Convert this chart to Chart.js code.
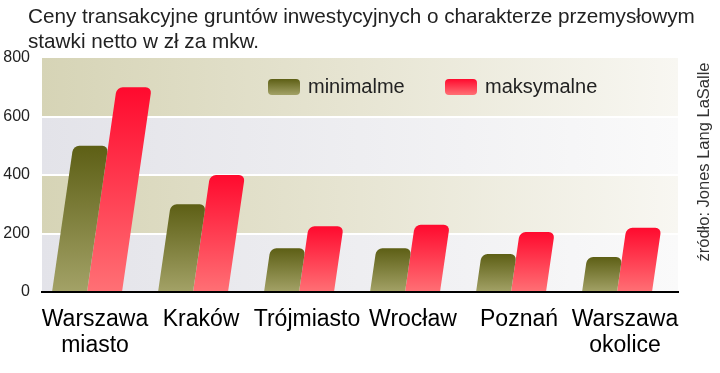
<!DOCTYPE html>
<html>
<head>
<meta charset="utf-8">
<script src="https://cdn.jsdelivr.net/npm/chart.js@4.4.1/dist/chart.umd.min.js"></script>
<style>
    html, body { margin: 0; padding: 0; background: #fff; }
    #wrap { width: 720px; height: 373px; position: relative; }
</style>
</head>
<body>
<div id="wrap"><canvas id="chart" width="720" height="373"></canvas></div>
<script>
// Data
const categories = [['Warszawa', 'miasto'], 'Kraków', 'Trójmiasto', 'Wrocław', 'Poznań', ['Warszawa', 'okolice']];
const minValues = [500, 300, 150, 150, 130, 120];
const maxValues = [700, 400, 225, 230, 205, 220];
const seriesNames = ['minimalme', 'maksymalne'];
const yTicks = [0, 200, 400, 600, 800];
const titleLines = ['Ceny transakcyjne gruntów inwestycyjnych o charakterze przemysłowym', 'stawki netto w zł za mkw.'];
const sourceText = 'źródło: Jones Lang LaSalle';

const FONT = "'Liberation Sans', Arial, sans-serif";
const SKEW = 0.145;

function barGradient(c, top, bottom) {
    const chart = c.chart;
    if (!chart.chartArea) return top;
    const y = chart.scales.y;
    const g = chart.ctx.createLinearGradient(0, y.getPixelForValue(c.raw), 0, y.getPixelForValue(0));
    g.addColorStop(0, top);
    g.addColorStop(1, bottom);
    return g;
}

// alternating khaki / grey bands behind the grid
const bands = {
    id: 'bands',
    beforeDraw(chart) {
        const { ctx, chartArea: a, scales } = chart;
        for (let i = 0; i < yTicks.length - 1; i++) {
            const yt = scales.y.getPixelForValue(yTicks[yTicks.length - 1 - i]);
            const yb = scales.y.getPixelForValue(yTicks[yTicks.length - 2 - i]);
            const g = ctx.createLinearGradient(a.left, 0, a.right, 0);
            if (i % 2 === 0) {
                g.addColorStop(0, '#d6d4b6');
                g.addColorStop(0.5, '#e7e5d3');
                g.addColorStop(1, '#f8f7f2');
            } else {
                g.addColorStop(0, '#e3e3e9');
                g.addColorStop(0.5, '#eeeef1');
                g.addColorStop(1, '#fafafa');
            }
            ctx.fillStyle = g;
            ctx.fillRect(a.left, yt, a.right - a.left, yb - yt);
        }
    }
};

// lean the bars to the right like the original
const slant = {
    id: 'slant',
    beforeDatasetsDraw(chart) {
        const y0 = chart.scales.y.getPixelForValue(0) - 55;
        chart.ctx.save();
        chart.ctx.transform(1, 0, -SKEW, 1, SKEW * y0, 0);
    },
    afterDatasetsDraw(chart) {
        chart.ctx.restore();
    }
};

// title, legend inside the plot and the vertical source note
const extras = {
    id: 'extras',
    afterDraw(chart) {
        const ctx = chart.ctx;
        ctx.save();
        ctx.fillStyle = '#222';
        ctx.font = '20.7px ' + FONT;
        ctx.textBaseline = 'middle';
        ctx.textAlign = 'left';
        ctx.fillText(titleLines[0], 28, 17);
        ctx.fillText(titleLines[1], 28, 42);

        const swatches = [
            { x: 268, text: 308, top: '#5d5f15', bottom: '#a3a267' },
            { x: 445, text: 485, top: '#ff0a2e', bottom: '#ff7075' }
        ];
        swatches.forEach((s, i) => {
            const g = ctx.createLinearGradient(0, 79, 0, 95);
            g.addColorStop(0, s.top);
            g.addColorStop(1, s.bottom);
            ctx.fillStyle = g;
            ctx.beginPath();
            ctx.roundRect(s.x, 79, 32, 16, 4);
            ctx.fill();
            ctx.fillStyle = '#222';
            ctx.font = '20px ' + FONT;
            ctx.fillText(seriesNames[i], s.text, 87);
        });

        ctx.translate(704, 162);
        ctx.rotate(-Math.PI / 2);
        ctx.textAlign = 'center';
        ctx.font = '16.5px ' + FONT;
        ctx.fillStyle = '#333';
        ctx.fillText(sourceText, 0, 0);
        ctx.restore();
    }
};

new Chart(document.getElementById('chart').getContext('2d'), {
    type: 'bar',
    data: {
        labels: categories,
        datasets: [{
            label: seriesNames[0],
            data: minValues,
            backgroundColor: c => barGradient(c, '#5d5f15', '#a3a267'),
            borderRadius: { topLeft: 6, topRight: 6 },
            categoryPercentage: 0.66,
            barPercentage: 1.0,
            clip: false
        }, {
            label: seriesNames[1],
            data: maxValues,
            backgroundColor: c => barGradient(c, '#ff0a2e', '#ff7075'),
            borderRadius: { topLeft: 6, topRight: 6 },
            categoryPercentage: 0.66,
            barPercentage: 1.0,
            clip: false
        }]
    },
    options: {
        responsive: false,
        animation: false,
        layout: { padding: { top: 58, right: 42, bottom: 0, left: 0 } },
        plugins: {
            legend: { display: false },
            title: { display: false },
            tooltip: { enabled: false }
        },
        scales: {
            x: {
                afterFit(scale) { scale.height = 81; },
                grid: { display: false, drawTicks: false },
                border: { display: true, color: '#000', width: 2 },
                ticks: {
                    color: '#000',
                    padding: 15,
                    maxRotation: 0,
                    autoSkip: false,
                    font: { family: FONT, size: 23, lineHeight: 1.13 }
                }
            },
            y: {
                min: 0,
                max: 800,
                afterFit(scale) { scale.width = 42; },
                afterBuildTicks(scale) { scale.ticks = yTicks.map(v => ({ value: v })); },
                grid: {
                    drawTicks: false,
                    lineWidth: 2,
                    color: c => (c.tick.value === 0 || c.tick.value === 800) ? 'rgba(0,0,0,0)' : '#fff'
                },
                border: { display: false },
                ticks: {
                    color: '#222',
                    padding: 12,
                    font: { family: FONT, size: 16 }
                }
            }
        }
    },
    plugins: [bands, slant, extras]
});
</script>
</body>
</html>
